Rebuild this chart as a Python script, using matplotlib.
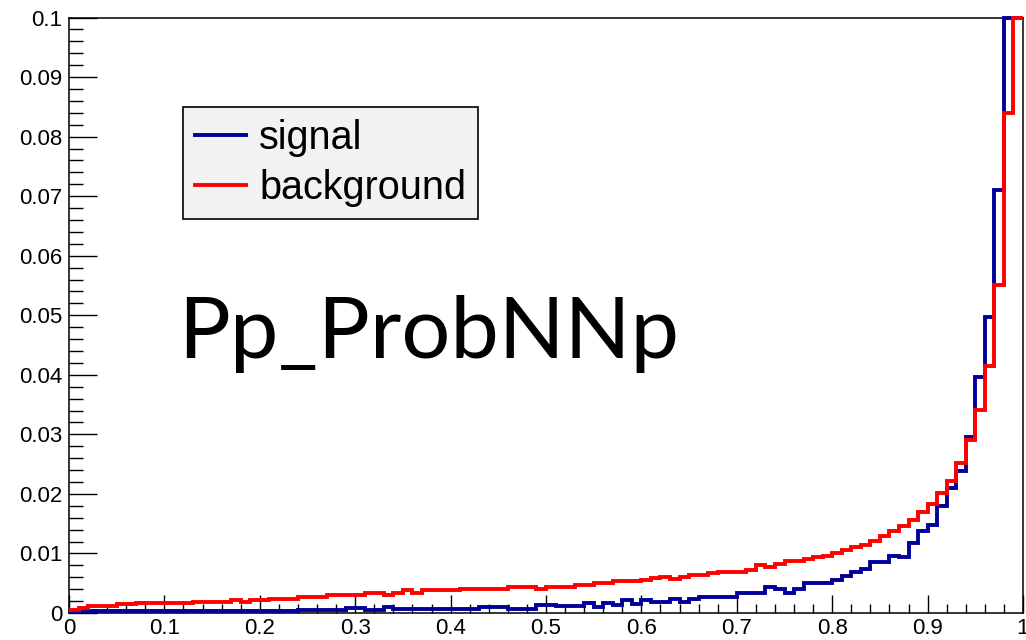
import numpy as np
import matplotlib
matplotlib.use("Agg")
import matplotlib.pyplot as plt
from matplotlib.ticker import MultipleLocator, FixedLocator
from matplotlib.lines import Line2D

# ---------------- data (100 bins on [0,1]) ----------------
bin_low = 0.0
bin_high = 1.0
n_bins = 100

signal = [
    0.0002, 0.0004, 0.0004, 0.0004, 0.0004, 0.0004, 0.0004, 0.0004, 0.0004, 0.0004,
    0.0004, 0.0004, 0.0004, 0.0004, 0.0004, 0.0004, 0.0004, 0.0004, 0.0004, 0.0004,
    0.0004, 0.0004, 0.0004, 0.0004, 0.0005, 0.0005, 0.0005, 0.0005, 0.0005, 0.0008,
    0.0008, 0.0005, 0.0005, 0.0010, 0.0006, 0.0006, 0.0006, 0.0006, 0.0006, 0.0006,
    0.0006, 0.0006, 0.0006, 0.0010, 0.0010, 0.0010, 0.0006, 0.0006, 0.0006, 0.0013,
    0.0013, 0.0011, 0.0011, 0.0011, 0.0016, 0.0010, 0.0016, 0.0013, 0.0022, 0.0015,
    0.0022, 0.0019, 0.0019, 0.0023, 0.0019, 0.0023, 0.0027, 0.0027, 0.0027, 0.0027,
    0.0033, 0.0033, 0.0033, 0.0044, 0.0040, 0.0033, 0.0040, 0.0050, 0.0050, 0.0050,
    0.0056, 0.0062, 0.0069, 0.0074, 0.0085, 0.0086, 0.0096, 0.0094, 0.0117, 0.0138,
    0.0148, 0.0179, 0.0210, 0.0239, 0.0295, 0.0397, 0.0497, 0.0710, 0.1200, 0.1400,
]

background = [
    0.0005, 0.0009, 0.0012, 0.0012, 0.0012, 0.0015, 0.0015, 0.0016, 0.0016, 0.0016,
    0.0016, 0.0016, 0.0016, 0.0018, 0.0018, 0.0018, 0.0018, 0.0021, 0.0018, 0.0021,
    0.0021, 0.0024, 0.0024, 0.0024, 0.0027, 0.0027, 0.0027, 0.0031, 0.0031, 0.0031,
    0.0031, 0.0034, 0.0034, 0.0030, 0.0034, 0.0038, 0.0033, 0.0038, 0.0038, 0.0038,
    0.0038, 0.0040, 0.0040, 0.0040, 0.0040, 0.0040, 0.0044, 0.0044, 0.0044, 0.0040,
    0.0044, 0.0044, 0.0044, 0.0047, 0.0047, 0.0050, 0.0050, 0.0054, 0.0054, 0.0054,
    0.0055, 0.0058, 0.0061, 0.0057, 0.0061, 0.0064, 0.0064, 0.0067, 0.0069, 0.0069,
    0.0069, 0.0073, 0.0081, 0.0077, 0.0083, 0.0087, 0.0087, 0.0090, 0.0094, 0.0096,
    0.0100, 0.0106, 0.0110, 0.0115, 0.0121, 0.0130, 0.0137, 0.0146, 0.0156, 0.0169,
    0.0183, 0.0201, 0.0221, 0.0252, 0.0291, 0.0341, 0.0414, 0.0550, 0.0840, 0.1150,
]

series_labels = ["signal", "background"]
x_ticks = [0.0, 0.1, 0.2, 0.3, 0.4, 0.5, 0.6, 0.7, 0.8, 0.9, 1.0]
x_tick_labels = ["0", "0.1", "0.2", "0.3", "0.4", "0.5", "0.6", "0.7", "0.8", "0.9", "1"]
y_ticks = [0.0, 0.01, 0.02, 0.03, 0.04, 0.05, 0.06, 0.07, 0.08, 0.09, 0.1]
y_tick_labels = ["0", "0.01", "0.02", "0.03", "0.04", "0.05", "0.06", "0.07", "0.08", "0.09", "0.1"]
title_text = "Pp_ProbNNp"

y_max = 0.1

# ---------------- styling ----------------
W, H = 1026, 640
DPI = 100
SIG_COLOR = "#000099"
BKG_COLOR = "#ff0000"
LW = 2.8

plt.rcParams["font.family"] = ["Liberation Sans", "DejaVu Sans"]

fig = plt.figure(figsize=(W / DPI, H / DPI), dpi=DPI)
fig.patch.set_facecolor("white")

ax_l, ax_r, ax_t, ax_b = 69, 1023, 17.5, 613
ax = fig.add_axes([ax_l / W, (H - ax_b) / H, (ax_r - ax_l) / W, (ax_b - ax_t) / H])

edges = np.linspace(bin_low, bin_high, n_bins + 1)
sig_draw = np.minimum(np.array(signal), y_max)
bkg_draw = np.minimum(np.array(background), y_max)

ax.stairs(sig_draw, edges, baseline=None, color=SIG_COLOR, linewidth=LW, clip_on=False, zorder=3)
ax.stairs(bkg_draw, edges, baseline=None, color=BKG_COLOR, linewidth=LW, clip_on=False, zorder=4)

ax.set_xlim(bin_low, bin_high)
ax.set_ylim(0, y_max)

ax.xaxis.set_major_locator(FixedLocator(x_ticks))
ax.set_xticklabels(x_tick_labels)
ax.yaxis.set_major_locator(FixedLocator(y_ticks))
ax.set_yticklabels(y_tick_labels)
ax.xaxis.set_minor_locator(MultipleLocator(0.02))
ax.yaxis.set_minor_locator(MultipleLocator(0.002))

ax.tick_params(axis="x", which="major", direction="in", length=13, width=1.0,
               labelsize=16, pad=3.5, top=False, colors="black")
ax.tick_params(axis="x", which="minor", direction="in", length=6.5, width=1.0, top=False)
ax.tick_params(axis="y", which="major", direction="in", length=20, width=1.0,
               labelsize=16, pad=5, right=False)
ax.tick_params(axis="y", which="minor", direction="in", length=10, width=1.0, right=False)

for s in ax.spines.values():
    s.set_linewidth(1.1)
    s.set_color("black")

# legend
handles = [Line2D([], [], color=SIG_COLOR, lw=LW), Line2D([], [], color=BKG_COLOR, lw=LW)]
leg = ax.legend(handles, series_labels, loc="upper left",
                bbox_to_anchor=(183 / W, 1 - 107 / H), bbox_transform=fig.transFigure,
                fontsize=28.5, frameon=True, fancybox=False, framealpha=1,
                facecolor="#f2f2f2", edgecolor="black", borderpad=0.3,
                handlelength=1.3, handletextpad=0.33, labelspacing=0.3,
                borderaxespad=0)
leg.get_frame().set_linewidth(1.2)

# big label
txt = fig.text(178 / W, (H - 358) / H, title_text, fontsize=68, family=["Lato", "DejaVu Sans"],
               ha="left", va="baseline", color="black")
fig.canvas.draw()
bb = txt.get_window_extent()
target_w = 502.0
txt.set_fontsize(68 * target_w / bb.width)

fig.savefig("out.png", dpi=DPI, facecolor="white")
